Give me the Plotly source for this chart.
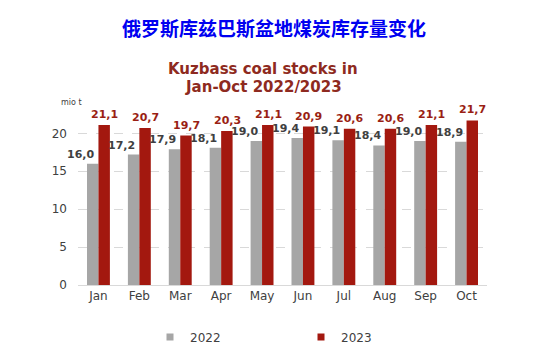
import plotly.graph_objects as go

months = ["Jan", "Feb", "Mar", "Apr", "May", "Jun", "Jul", "Aug", "Sep", "Oct"]
stocks_2022 = [16.0, 17.2, 17.9, 18.1, 19.0, 19.4, 19.1, 18.4, 19.0, 18.9]
stocks_2023 = [21.1, 20.7, 19.7, 20.3, 21.1, 20.9, 20.6, 20.6, 21.1, 21.7]
series_names = ["2022", "2023"]
y_ticks = [0, 5, 10, 15, 20]

GRAY = "#A6A6A6"
RED = "#A3180F"
LABEL_GRAY = "#404040"
LABEL_RED = "#9A1F14"
FONT = "DejaVu Sans"


def fmt(v):
    return f"{v:.1f}".replace(".", ",")


fig = go.Figure()
fig.add_trace(go.Bar(x=months, y=stocks_2022, name=series_names[0],
                     marker=dict(color=GRAY, line=dict(width=0)), showlegend=False))
fig.add_trace(go.Bar(x=months, y=stocks_2023, name=series_names[1],
                     marker=dict(color=RED, line=dict(width=0)), showlegend=False))
# legend entries with small square markers
fig.add_trace(go.Scatter(x=[None], y=[None], mode="markers", name=series_names[0],
                         marker=dict(symbol="square", size=7, color=GRAY)))
fig.add_trace(go.Scatter(x=[None], y=[None], mode="markers", name=series_names[1],
                         marker=dict(symbol="square", size=7, color=RED)))

annotations = []
for m, v in zip(months, stocks_2022):
    annotations.append(dict(x=m, y=v, xref="x", yref="y", text=fmt(v), showarrow=False,
                            xanchor="right", yanchor="bottom", xshift=-2, yshift=1,
                            font=dict(family=FONT, size=11, color=LABEL_GRAY, weight="bold")))
for m, v in zip(months, stocks_2023):
    annotations.append(dict(x=m, y=v, xref="x", yref="y", text=fmt(v), showarrow=False,
                            xanchor="center", yanchor="bottom", xshift=6, yshift=2,
                            font=dict(family=FONT, size=11, color=LABEL_RED, weight="bold")))

# header texts: (text, centre x px, centre y px, font)
L, R, T, B = 78, 58, 103, 76
W, H = 545, 361
pw, ph = W - L - R, H - T - B
headers = [
    ("俄罗斯库兹巴斯盆地煤炭库存量变化", 274, 28,
     dict(family="Noto Sans CJK SC", size=19, color="#0000F0", weight="bold")),
    ("Kuzbass coal stocks in", 263, 69,
     dict(family=FONT, size=15, color="#8E2A20", weight="bold")),
    ("Jan-Oct 2022/2023", 263, 87,
     dict(family=FONT, size=15, color="#8E2A20", weight="bold")),
    ("mio t", 71, 102, dict(family=FONT, size=8, color=LABEL_GRAY)),
]
for text, px, py, f in headers:
    annotations.append(dict(x=(px - L) / pw, xref="paper", xanchor="center",
                            y=(H - B - py) / ph, yref="paper", yanchor="middle",
                            text=text, showarrow=False, font=f))

fig.update_layout(
    width=W, height=H,
    margin=dict(l=L, r=R, t=T, b=B, autoexpand=False),
    paper_bgcolor="white", plot_bgcolor="white",
    barmode="group", bargap=0.44, bargroupgap=0,
    font=dict(family=FONT, size=12, color=LABEL_GRAY),
    xaxis=dict(range=[-0.5, len(months) - 0.5], showgrid=False, showline=True,
               linecolor="#D9D9D9", linewidth=1,
               ticks="", tickfont=dict(size=12, color=LABEL_GRAY), fixedrange=True,
               automargin=False),
    yaxis=dict(range=[0, 24], tickvals=y_ticks, showgrid=True, gridcolor="#D9D9D9",
               griddash="dash", gridwidth=1, zeroline=False, showline=False,
               ticks="", tickfont=dict(size=12, color=LABEL_GRAY), ticklabelstandoff=10,
               fixedrange=True, automargin=False),
    legend=dict(orientation="h", x=(150 - L) / pw, xanchor="left",
                y=(H - B - 337) / ph, yanchor="middle",
                font=dict(family=FONT, size=12, color=LABEL_GRAY),
                entrywidth=106, itemwidth=30, bgcolor="rgba(0,0,0,0)"),
    annotations=annotations,
    showlegend=True,
)

fig.write_html("out.html", config={"displayModeBar": False},
               post_script="document.body.style.margin='0';")
